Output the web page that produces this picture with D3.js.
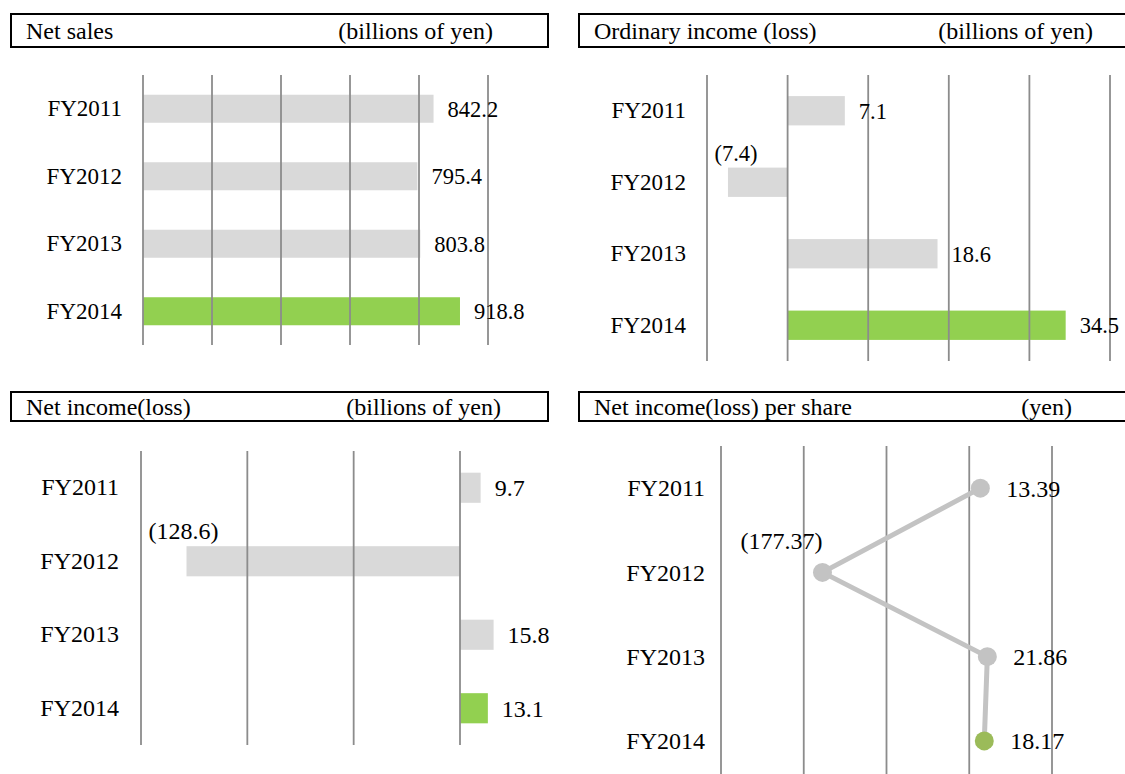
<!DOCTYPE html>
<html>
<head>
<meta charset="utf-8">
<script src="https://cdn.jsdelivr.net/npm/d3@7"></script>
<style>
  html, body { margin: 0; padding: 0; background: #fff; }
  svg { display: block; font-family: "Liberation Serif", "Times New Roman", serif; }
</style>
</head>
<body>
<svg id="chart" width="1125" height="774"></svg>
<script>
// Fiscal years shown in every panel
const years = ["FY2011", "FY2012", "FY2013", "FY2014"];

// Net sales (billions of yen)
const netSales = [842.2, 795.4, 803.8, 918.8];
const netSalesTicks = [0, 200, 400, 600, 800, 1000];

// Ordinary income (loss) (billions of yen)
const ordinaryIncome = [7.1, -7.4, 18.6, 34.5];
const ordinaryIncomeTicks = [-10, 0, 10, 20, 30, 40];

// Net income (loss) (billions of yen)
const netIncome = [9.7, -128.6, 15.8, 13.1];
const netIncomeTicks = [-150, -100, -50, 0];

// Net income (loss) per share (yen)
const eps = [13.39, -177.37, 21.86, 18.17];
const epsTicks = [-300, -200, -100, 0, 100];

const GRAY = "#d9d9d9";
const GREEN = "#92d050";
const GRID = "#8c8c8c";
const LINE_GRAY = "#c3c3c3";
const DOT_GREEN = "#9bbb59";

const svg = d3.select("#chart");

// Negative figures are written in parentheses
function fmt(digits) {
  const f = d3.format("." + digits + "f");
  return v => v < 0 ? "(" + f(-v) + ")" : f(v);
}

function titleBox(g, box) {
  g.append("rect")
    .attr("x", box.x).attr("y", box.y)
    .attr("width", box.w).attr("height", box.h)
    .attr("fill", "none").attr("stroke", "#000").attr("stroke-width", 2);
  g.append("text")
    .attr("x", box.x + 15).attr("y", box.y + box.h / 2)
    .attr("dy", "0.35em")
    .attr("font-size", 24).attr("fill", "#000")
    .text(box.title);
  g.append("text")
    .attr("x", box.unitX).attr("y", box.y + box.h / 2)
    .attr("dy", "0.35em").attr("text-anchor", "end")
    .attr("font-size", 24).attr("fill", "#000")
    .text(box.unit);
}

function grid(g, x, ticks, y0, y1) {
  g.append("g").selectAll("line").data(ticks).join("line")
    .attr("x1", d => x(d)).attr("x2", d => x(d))
    .attr("y1", y0).attr("y2", y1)
    .attr("stroke", GRID).attr("stroke-width", 1.8);
}

function yLabels(g, y, labelRight, size) {
  const axis = d3.axisLeft(y).tickSize(0).tickPadding(0);
  const ax = g.append("g").attr("transform", `translate(${labelRight},0)`).call(axis);
  ax.select(".domain").remove();
  ax.selectAll("text")
    .attr("font-family", "Liberation Serif, Times New Roman, serif")
    .attr("font-size", size).attr("fill", "#000");
}

function barPanel(cfg) {
  const g = svg.append("g");
  titleBox(g, cfg.box);

  const x = d3.scaleLinear().domain(cfg.domain).range(cfg.xRange);
  const y = d3.scaleBand().domain(years).range(cfg.yRange)
    .paddingInner(cfg.pad).paddingOuter(cfg.pad / 2);

  yLabels(g, y, cfg.labelRight, cfg.catSize);

  const rows = years.map((yr, i) => ({ yr, v: cfg.values[i], last: i === years.length - 1 }));
  const f = fmt(1);

  g.append("g").selectAll("rect").data(rows).join("rect")
    .attr("x", d => x(Math.min(0, d.v)))
    .attr("width", d => Math.abs(x(d.v) - x(0)))
    .attr("y", d => y(d.yr))
    .attr("height", y.bandwidth())
    .attr("fill", d => d.last ? GREEN : GRAY);

  grid(g, x, cfg.ticks, cfg.yRange[0], cfg.yRange[1]);

  g.append("g").selectAll("text").data(rows).join("text")
    .attr("font-size", cfg.valSize).attr("fill", "#000")
    .attr("x", d => d.v < 0 ? x(d.v) + cfg.negDx : x(d.v) + 14)
    .attr("y", d => d.v < 0 ? y(d.yr) - 7 : y(d.yr) + y.bandwidth() / 2)
    .attr("dy", d => d.v < 0 ? "0" : "0.35em")
    .attr("text-anchor", d => d.v < 0 ? "middle" : "start")
    .text(d => f(d.v));
}

// Net sales
barPanel({
  box: { x: 11, y: 14, w: 537, h: 33, title: "Net sales", unit: "(billions of yen)", unitX: 493 },
  values: netSales, domain: [0, 1000], ticks: netSalesTicks,
  xRange: [143, 488], yRange: [75, 345], pad: 0.585, labelRight: 122, negDx: 0,
  catSize: 23, valSize: 22.5
});

// Ordinary income (loss)
barPanel({
  box: { x: 579, y: 14, w: 560, h: 33, title: "Ordinary income (loss)", unit: "(billions of yen)", unitX: 1093 },
  values: ordinaryIncome, domain: [-10, 40], ticks: ordinaryIncomeTicks,
  xRange: [707, 1110], yRange: [75, 361], pad: 0.59, labelRight: 686, negDx: 8,
  catSize: 23, valSize: 22.5
});

// Net income (loss)
barPanel({
  box: { x: 11, y: 392, w: 537, h: 29, title: "Net income(loss)", unit: "(billions of yen)", unitX: 501 },
  values: netIncome, domain: [-150, 0], ticks: netIncomeTicks,
  xRange: [141, 460], yRange: [451, 745], pad: 0.59, labelRight: 119, negDx: -3,
  catSize: 24, valSize: 24
});

// Net income (loss) per share
(function () {
  const g = svg.append("g");
  titleBox(g, { x: 579, y: 392, w: 560, h: 29, title: "Net income(loss) per share", unit: "(yen)", unitX: 1072 });

  const x = d3.scaleLinear().domain([-300, 100]).range([721, 1052]);
  const y = d3.scalePoint().domain(years).range([446, 783]).padding(0.5);

  yLabels(g, y, 705, 24);

  grid(g, x, epsTicks, 446, 774);

  const pts = years.map((yr, i) => ({ yr, v: eps[i], last: i === years.length - 1 }));
  const f = fmt(2);

  g.append("path")
    .datum(pts)
    .attr("fill", "none").attr("stroke", LINE_GRAY).attr("stroke-width", 5)
    .attr("stroke-linejoin", "round")
    .attr("d", d3.line().x(d => x(d.v)).y(d => y(d.yr)));

  g.append("g").selectAll("circle").data(pts).join("circle")
    .attr("cx", d => x(d.v)).attr("cy", d => y(d.yr)).attr("r", 9.5)
    .attr("fill", d => d.last ? DOT_GREEN : LINE_GRAY);

  g.append("g").selectAll("text").data(pts).join("text")
    .attr("font-size", 24).attr("fill", "#000")
    .attr("x", d => d.v < 0 ? x(d.v) - 41 : x(d.v) + 26)
    .attr("y", d => d.v < 0 ? y(d.yr) - 23 : y(d.yr))
    .attr("dy", d => d.v < 0 ? "0" : "0.35em")
    .attr("text-anchor", d => d.v < 0 ? "middle" : "start")
    .text(d => f(d.v));
})();
</script>
</body>
</html>
